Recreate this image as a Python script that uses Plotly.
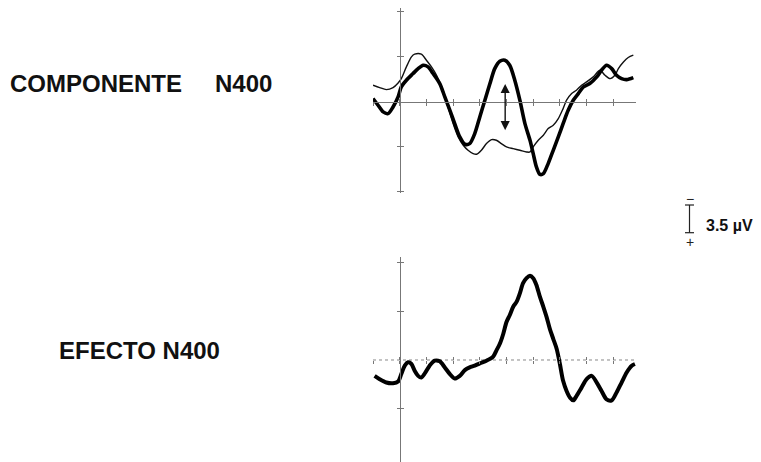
import plotly.graph_objects as go

# ---------------- data (time in ms, amplitude in µV, negative up) ----------------
top_t_thick = [-100,-81,-62,-44,-25,-6,6,25,50,69,88,106,125,150,169,188,206,225,244,262,281,300,319,338,356,375,394,412,431,450,469,488,500,512,525,538,556,575,594,612,631,650,669,688,712,738,756,775,794,812,831,850,875]
top_v_thick = [-0.37,0.37,1.11,1.30,0.56,-0.56,-1.67,-2.41,-3.15,-3.70,-4.07,-3.89,-3.15,-2.04,-0.56,0.93,2.41,3.89,4.70,4.63,3.52,1.67,-0.19,-2.04,-3.70,-4.52,-4.63,-4.07,-2.41,-0.19,2.41,4.26,5.74,7.22,8.04,7.96,6.85,5.37,3.89,2.41,0.93,-0.19,-0.93,-1.67,-2.04,-2.78,-3.52,-4.07,-3.70,-2.96,-2.59,-2.48,-2.70]

top_t_thin = [-100,-75,-50,-25,-6,6,25,44,56,81,100,119,138,162,181,200,219,238,256,275,288,306,325,344,362,381,400,425,450,475,488,500,519,538,556,575,594,612,625,644,662,681,700,725,750,769,788,806,819,838,856,875]
top_v_thin = [-1.85,-1.59,-1.37,-1.59,-2.11,-2.59,-3.89,-5.0,-5.30,-5.30,-4.63,-3.89,-2.96,-1.30,0.56,2.41,3.89,4.81,5.37,5.74,5.81,5.37,4.63,4.19,4.26,4.63,5.0,5.19,5.37,5.56,5.56,5.0,4.26,3.70,2.96,2.59,1.85,0.74,-0.19,-0.93,-1.30,-1.85,-2.22,-2.78,-3.52,-2.96,-2.59,-2.96,-3.70,-4.44,-4.93,-5.19]

bot_t = [-94,-75,-50,-25,-6,6,19,31,44,56,69,81,94,112,131,150,169,188,206,225,244,262,281,300,325,350,362,375,388,400,412,425,438,450,462,475,488,500,512,525,538,550,562,575,588,600,612,625,638,650,662,681,700,719,738,756,775,794,812,831,850,869,881]
bot_v = [1.62,1.96,2.30,2.37,2.20,1.44,0.58,0.24,0.41,1.10,1.62,1.79,1.37,0.58,0.07,0.14,0.76,1.44,1.89,1.62,1.03,0.76,0.58,0.34,0.07,-0.34,-0.96,-1.65,-2.68,-3.88,-4.57,-5.43,-5.95,-6.80,-7.84,-8.35,-8.59,-8.35,-7.66,-6.46,-5.43,-4.40,-3.20,-2.16,-1.13,0.41,2.13,3.16,3.85,4.12,3.68,2.82,1.96,1.62,2.30,3.16,4.02,4.12,3.33,2.30,1.27,0.58,0.41]

x_ticks = [-100, 0, 100, 200, 300, 400, 500, 600, 700, 800]
top_y_ticks = [-10, -5, 5, 10]
bot_y_ticks = [-10, -5, 5]
arrow_t = 395
arrow_from = 3.3
arrow_to = -2.0

# ---------------- geometry ----------------
# the page body adds an 8px offset, so the figure is 8px smaller and
# positions are expressed in window pixels minus that offset
OFF = 8
W, H = 761 - OFF, 462 - OFF


def px(xp):
    return (xp - OFF) / W


def py(yp):
    return 1 - (yp - OFF) / H


x_range = [-100, 885]
x_dom = [px(373), px(636)]
top_range = [10.15, -10.4]          # reversed: negative up
top_dom = [py(193.3), py(8.3)]
bot_range = [10.41, -10.48]
bot_dom = [0.0, py(257.3)]


def frac(v, rng, dom):
    return dom[0] + (v - rng[0]) / (rng[1] - rng[0]) * (dom[1] - dom[0])

y0_x = frac(0, x_range, x_dom)            # paper x of t = 0
x0_top = frac(0, top_range, top_dom)       # paper y of 0 µV (top)
x0_bot = frac(0, bot_range, bot_dom)       # paper y of 0 µV (bottom)

fig = go.Figure()

# waveforms
fig.add_trace(go.Scatter(x=top_t_thin, y=top_v_thin, mode="lines",
                         line=dict(color="#111", width=1.4, shape="spline", smoothing=0.8),
                         xaxis="x", yaxis="y", hoverinfo="skip"))
fig.add_trace(go.Scatter(x=top_t_thick, y=top_v_thick, mode="lines",
                         line=dict(color="#000", width=3.6, shape="spline", smoothing=0.8),
                         xaxis="x", yaxis="y", hoverinfo="skip"))
# bottom baseline (dotted)
fig.add_trace(go.Scatter(x=[x_range[0], x_range[1]], y=[0, 0], mode="lines",
                         line=dict(color="#888", width=1, dash="dot"),
                         xaxis="x2", yaxis="y2", hoverinfo="skip"))
fig.add_trace(go.Scatter(x=bot_t, y=bot_v, mode="lines",
                         line=dict(color="#000", width=4, shape="spline", smoothing=0.8),
                         xaxis="x2", yaxis="y2", hoverinfo="skip"))
# dummy traces so the overlay tick axes render
fig.add_trace(go.Scatter(x=[None], y=[None], xaxis="x3", yaxis="y3", showlegend=False))
fig.add_trace(go.Scatter(x=[None], y=[None], xaxis="x4", yaxis="y4", showlegend=False))

axcol = "#777"
xcommon = dict(range=x_range, domain=x_dom, showgrid=False, zeroline=False,
               showticklabels=False, tickvals=x_ticks, ticklen=3, tickcolor=axcol,
               tickwidth=1, anchor="free", fixedrange=True)


def ycommon(rng, dom, ticks):
    return dict(range=rng, domain=dom, showgrid=False, zeroline=False,
                showticklabels=False, tickvals=ticks, ticklen=3, tickcolor=axcol,
                tickwidth=1, anchor="free", position=y0_x, showline=True,
                linecolor=axcol, linewidth=1, fixedrange=True)

fig.update_layout(
    width=W, height=H,
    margin=dict(l=0, r=0, t=0, b=0),
    paper_bgcolor="white", plot_bgcolor="rgba(0,0,0,0)",
    showlegend=False,
    xaxis=dict(**xcommon, position=x0_top, showline=True, linecolor=axcol,
               linewidth=1, ticks="outside"),
    xaxis3=dict(**xcommon, position=x0_top, showline=False, ticks="inside",
                overlaying="x"),
    xaxis2=dict(**xcommon, position=x0_bot, showline=False, ticks="outside"),
    xaxis4=dict(**xcommon, position=x0_bot, showline=False, ticks="inside",
                overlaying="x2"),
    yaxis=dict(**ycommon(top_range, top_dom, top_y_ticks), ticks="outside"),
    yaxis3=dict(**ycommon(top_range, top_dom, top_y_ticks), ticks="inside",
                overlaying="y"),
    yaxis2=dict(**ycommon(bot_range, bot_dom, bot_y_ticks), ticks="outside"),
    yaxis4=dict(**ycommon(bot_range, bot_dom, bot_y_ticks), ticks="inside",
                overlaying="y2"),
)

font_lbl = dict(family="Liberation Sans, Arial, sans-serif", size=24, color="#111")
anns = [
    dict(text="<b>COMPONENTE</b>", x=px(8), y=py(84), xanchor="left", yanchor="middle"),
    dict(text="<b>N400</b>", x=px(213), y=py(84), xanchor="left", yanchor="middle"),
    dict(text="<b>EFECTO N400</b>", x=px(57), y=py(350.5), xanchor="left", yanchor="middle"),
]
for a in anns:
    fig.add_annotation(xref="paper", yref="paper", showarrow=False, font=font_lbl, **a)

# double-headed arrow marking the N400 component
fig.add_annotation(x=arrow_t, y=arrow_to, ax=arrow_t, ay=arrow_from,
                   xref="x", yref="y", axref="x", ayref="y", text="",
                   showarrow=True, arrowhead=2, startarrowhead=2, arrowside="end+start",
                   arrowsize=1.3, startarrowsize=1.3, arrowwidth=1.4, arrowcolor="#111",
                   standoff=0, startstandoff=0)

# calibration bar (3.5 µV)
bx = px(689.5)
yt, yb = py(205), py(232.7)
sw = 4.5 / W
for shp in [
    dict(x0=bx, x1=bx, y0=yt, y1=yb),
    dict(x0=bx - sw, x1=bx + sw, y0=yt, y1=yt),
    dict(x0=bx - sw, x1=bx + sw, y0=yb, y1=yb),
]:
    fig.add_shape(type="line", xref="paper", yref="paper",
                  line=dict(color="#222", width=1.2), **shp)

small = dict(family="Liberation Sans, Arial, sans-serif", size=14, color="#222")
fig.add_annotation(xref="paper", yref="paper", x=bx, y=py(199), text="−",
                   showarrow=False, font=small, xanchor="center", yanchor="middle")
fig.add_annotation(xref="paper", yref="paper", x=bx, y=py(242), text="+",
                   showarrow=False, font=small, xanchor="center", yanchor="middle")
fig.add_annotation(xref="paper", yref="paper", x=px(704), y=py(225),
                   text="<b>3.5 µV</b>", showarrow=False,
                   font=dict(family="Liberation Sans, Arial, sans-serif", size=16, color="#111"),
                   xanchor="left", yanchor="middle")

fig.write_html("out.html")
